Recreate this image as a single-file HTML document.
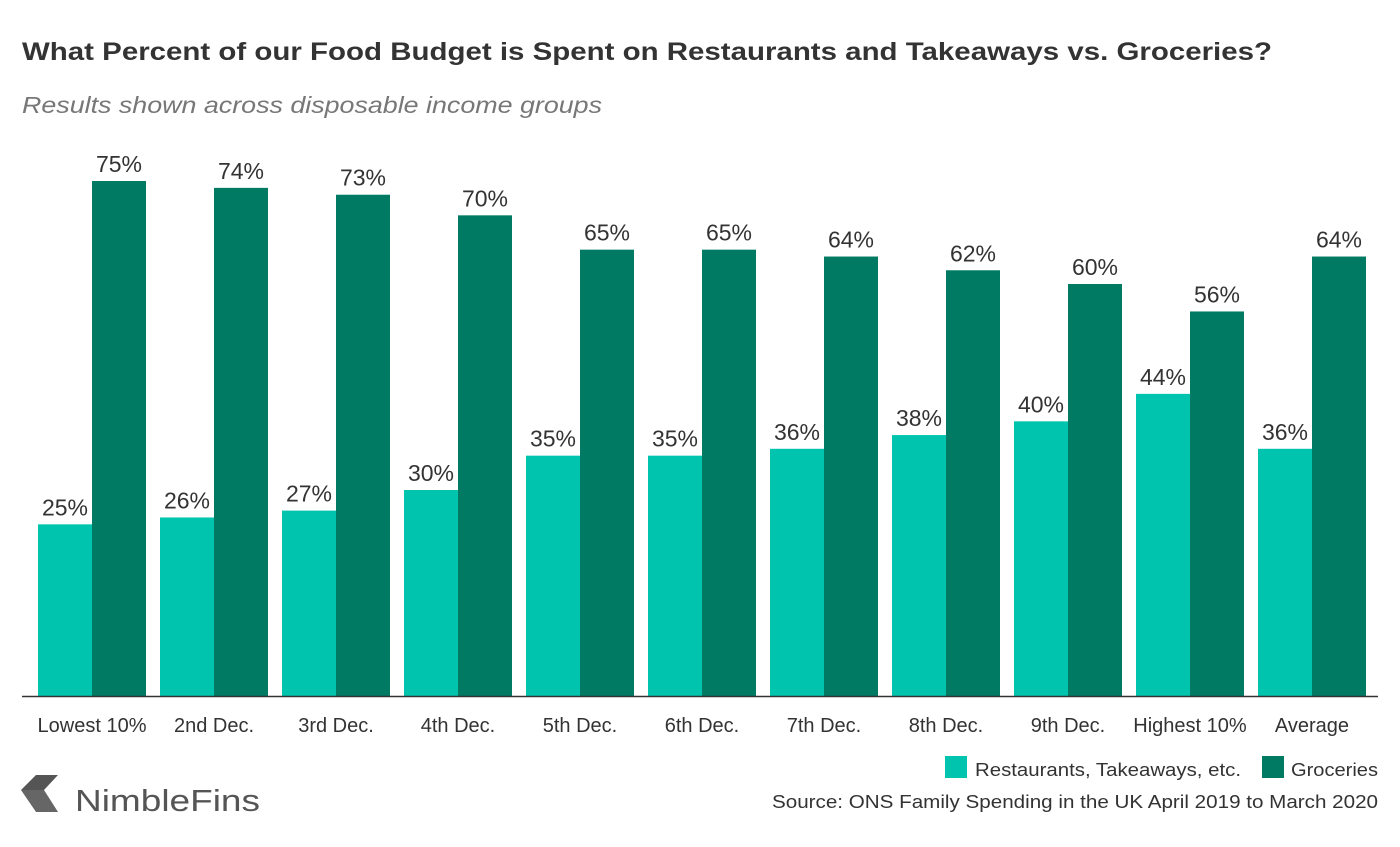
<!DOCTYPE html>
<html><head><meta charset="utf-8"><style>
body{margin:0;background:#fff;font-family:"Liberation Sans",sans-serif;}
svg text{font-family:"Liberation Sans",sans-serif;}
</style></head><body>
<svg id="chart" width="1400" height="842" xmlns="http://www.w3.org/2000/svg">
<text x="22" y="60" font-size="25" font-weight="bold" fill="#333" textLength="1250" lengthAdjust="spacingAndGlyphs">What Percent of our Food Budget is Spent on Restaurants and Takeaways vs. Groceries?</text>
<text x="22" y="113" font-size="23" font-style="italic" fill="#777" textLength="580" lengthAdjust="spacingAndGlyphs">Results shown across disposable income groups</text>
<g id="bars"></g>
<line x1="22" y1="696.5" x2="1378" y2="696.5" stroke="#333" stroke-width="1.5"/>
<rect x="945" y="756" width="22" height="22" fill="#00c4ae"/>
<text x="975" y="776" font-size="18" fill="#333" textLength="266" lengthAdjust="spacingAndGlyphs">Restaurants, Takeaways, etc.</text>
<rect x="1262" y="756" width="22" height="22" fill="#007a63"/>
<text x="1291" y="776" font-size="18" fill="#333" textLength="87" lengthAdjust="spacingAndGlyphs">Groceries</text>
<text x="772" y="808" font-size="18" fill="#333" textLength="606" lengthAdjust="spacingAndGlyphs">Source: ONS Family Spending in the UK April 2019 to March 2020</text>
<g>
<polygon points="36,775 58,775 44,790 21,790" fill="#555"/>
<polygon points="21,790 44,790 58,812 36,812" fill="#666"/>
<text x="75" y="811" font-size="31" fill="#555" textLength="185" lengthAdjust="spacingAndGlyphs">NimbleFins</text>
</g>
</svg>
<script>
const categories=["Lowest 10%","2nd Dec.","3rd Dec.","4th Dec.","5th Dec.","6th Dec.","7th Dec.","8th Dec.","9th Dec.","Highest 10%","Average"];
const restaurants=[25,26,27,30,35,35,36,38,40,44,36];
const groceries=[75,74,73,70,65,65,64,62,60,56,64];
const baseY=696, pxPer=515/75, x0=38, step=122, bw=54;
const y=v=>baseY-v*pxPer;
const g=document.getElementById('bars');
const NS="http://www.w3.org/2000/svg";
function bar(x,v,color,name){
  const r=document.createElementNS(NS,'rect');
  r.setAttribute('x',x);r.setAttribute('y',y(v));r.setAttribute('width',bw);r.setAttribute('height',v*pxPer);r.setAttribute('fill',color);
  
  
  g.appendChild(r);
  const t=document.createElementNS(NS,'text');
  t.setAttribute('x',x+bw/2);t.setAttribute('y',y(v)-9);t.setAttribute('text-anchor','middle');t.setAttribute('font-size','23');t.setAttribute('fill','#333');
  t.textContent=v+'%';
  
  
  g.appendChild(t);
}
categories.forEach((c,i)=>{
  const x=x0+i*step;
  bar(x,restaurants[i],'#00c4ae','bar-restaurants-'+i);
  bar(x+bw,groceries[i],'#007a63','bar-groceries-'+i);
  const t=document.createElementNS(NS,'text');
  t.setAttribute('x',x+bw);t.setAttribute('y',732);t.setAttribute('text-anchor','middle');t.setAttribute('font-size','20');t.setAttribute('fill','#333');
  t.textContent=c;
  
  
  g.appendChild(t);
});
</script>
</body></html>
